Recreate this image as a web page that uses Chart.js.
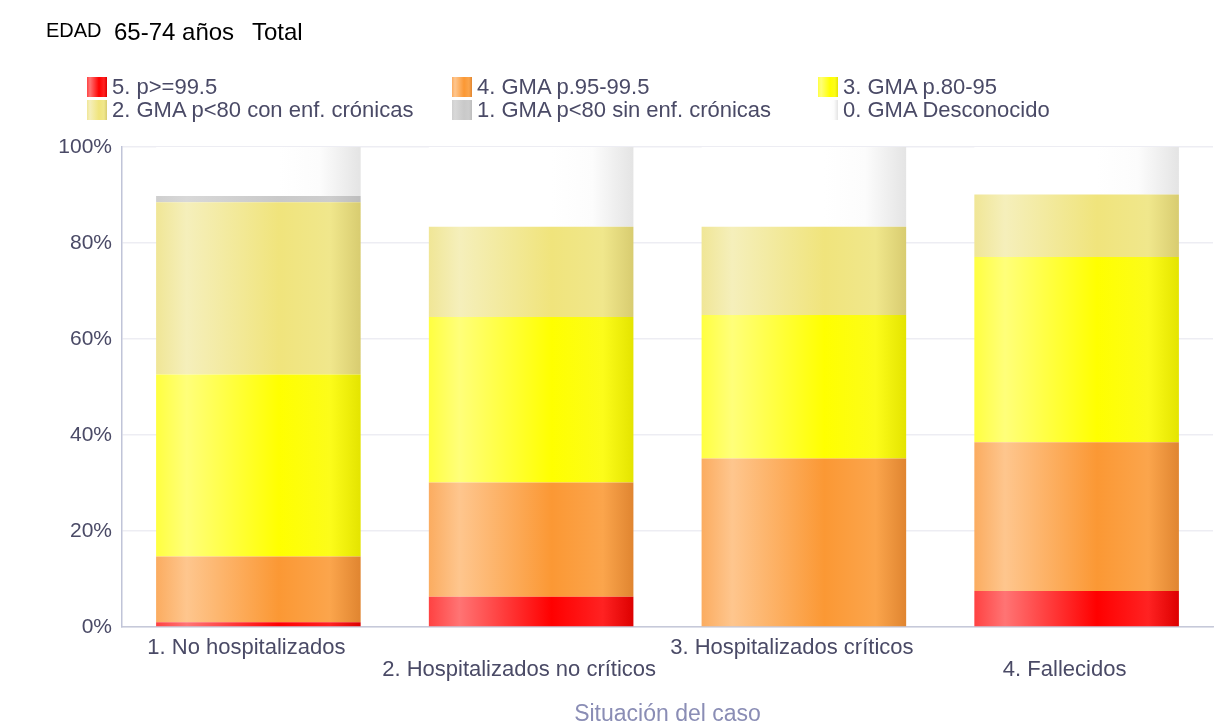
<!DOCTYPE html>
<html>
<head>
<meta charset="utf-8">
<script src="https://cdn.jsdelivr.net/npm/chart.js@4"></script>
<style>
    body { margin: 0; background: #fff; font-family: "Liberation Sans", Arial, sans-serif; }
    #wrap { position: relative; width: 1227px; height: 724px; overflow: hidden; }
    #chart { position: absolute; left: 0; top: 0; }
    .t { position: absolute; white-space: pre; color: #000; line-height: 1; }
    .leg { position: absolute; height: 20px; display: flex; align-items: center; font-size: 22px; color: #4a4a66; white-space: pre; }
    .leg i { display: inline-block; width: 20px; height: 20px; margin-right: 5px; }
</style>
</head>
<body>
<div id="wrap">
    <canvas id="chart" width="1227" height="724"></canvas>
    <div class="t" style="left:46px; top:20px; font-size:20px;">EDAD</div>
    <div class="t" style="left:114px; top:20px; font-size:24px;">65-74 años</div>
    <div class="t" style="left:252px; top:20px; font-size:24px;">Total</div>
    <div id="legend"></div>
</div>
<script>
const categories = ['1. No hospitalizados', '2. Hospitalizados no críticos', '3. Hospitalizados críticos', '4. Fallecidos'];
const seriesNames = ['5. p>=99.5', '4. GMA p.95-99.5', '3. GMA p.80-95', '2. GMA p<80 con enf. crónicas', '1. GMA p<80 sin enf. crónicas', '0. GMA Desconocido'];

// porcentaje de cada tramo, de abajo a arriba
const p995 = [1.0, 6.3, 0, 7.5];
const p95a995 = [13.7, 23.8, 35.1, 31.0];
const p80a95 = [37.9, 34.5, 29.9, 38.6];
const p80Cronicas = [35.9, 18.8, 18.4, 13.0];
const p80SinCronicas = [1.3, 0, 0, 0];
const desconocido = [10.2, 16.6, 16.6, 9.9];

const yTicks = [0, 20, 40, 60, 80, 100];

// degradados horizontales de cada serie
const gradients = [
    [[0, '#ff4242'], [0.15, '#ff7474'], [0.6, '#ff0000'], [0.85, '#ff2222'], [1, '#dd0000']],
    [[0, '#fbac60'], [0.15, '#fec68e'], [0.6, '#fb9834'], [0.85, '#fba54c'], [1, '#e08530']],
    [[0, '#ffff40'], [0.15, '#ffff7a'], [0.6, '#ffff00'], [0.85, '#fcfc1a'], [1, '#e4e400']],
    [[0, '#f0e696'], [0.15, '#f5efbb'], [0.6, '#f0e47c'], [0.85, '#f0e78c'], [1, '#d8cc70']],
    [[0, '#cfcfcf'], [0.15, '#d8d8d8'], [0.6, '#c9c9c9'], [0.85, '#cdcdcd'], [1, '#bdbdbd']],
    [[0, '#ffffff'], [0.15, '#ffffff'], [0.6, '#ffffff'], [0.8, '#fcfcfc'], [1, '#e4e4e4']]
];
const seriesValues = [p995, p95a995, p80a95, p80Cronicas, p80SinCronicas, desconocido];
const barFraction = 0.75;

function barGradient(stops) {
    return ctx => {
        const chart = ctx.chart;
        const area = chart.chartArea;
        if (!area || ctx.dataIndex === undefined) return stops[2][1];
        const x = chart.scales.x.getPixelForValue(ctx.dataIndex);
        const w = area.width / categories.length * barFraction;
        const g = chart.ctx.createLinearGradient(x - w / 2, 0, x + w / 2, 0);
        stops.forEach(s => g.addColorStop(s[0], s[1]));
        return g;
    };
}

// leyenda en tres columnas
const legend = document.getElementById('legend');
const legCols = [87, 452, 818];
const legRows = [77, 100];
seriesNames.forEach((name, i) => {
    const d = document.createElement('div');
    d.className = 'leg';
    d.style.left = legCols[i % 3] + 'px';
    d.style.top = legRows[Math.floor(i / 3)] + 'px';
    const box = document.createElement('i');
    box.style.background = 'linear-gradient(to right,' + gradients[i].map(s => s[1] + ' ' + (s[0] * 100) + '%').join(',') + ')';
    d.appendChild(box);
    d.appendChild(document.createTextNode(name));
    legend.appendChild(d);
});

const textColor = '#4a4a66';
const family = '"Liberation Sans", Arial, sans-serif';

new Chart(document.getElementById('chart'), {
    type: 'bar',
    data: {
        labels: categories.map((c, i) => i % 2 === 0 ? [c, ''] : ['', c]),
        datasets: seriesNames.map((name, i) => ({
            label: name,
            data: seriesValues[i],
            backgroundColor: barGradient(gradients[i]),
            borderWidth: 0,
            categoryPercentage: barFraction,
            barPercentage: 1
        }))
    },
    options: {
        responsive: false,
        animation: false,
        layout: { padding: { top: 147, right: 14, left: 0, bottom: 0 } },
        plugins: { legend: { display: false }, tooltip: { enabled: false } },
        scales: {
            x: {
                stacked: true,
                grid: { display: false },
                border: { display: true, color: '#c6c9d9', width: 1.5 },
                ticks: { color: textColor, font: { family: family, size: 22, lineHeight: 1.0 }, padding: 2, maxRotation: 0, autoSkip: false, labelOffset: -12 },
                title: { display: true, text: 'Situación del caso', color: '#8a8db5', font: { family: family, size: 23 }, padding: { top: 0, bottom: -4 } },
                afterFit: s => { s.height = 97; }
            },
            y: {
                stacked: true,
                min: 0,
                max: 100,
                afterBuildTicks: s => { s.ticks = yTicks.map(v => ({ value: v })); },
                grid: { color: '#ededf3', lineWidth: 1.5, drawTicks: false },
                border: { display: true, color: '#c0c4d8', width: 1.5 },
                ticks: { color: textColor, font: { family: family, size: 21 }, padding: 10, callback: v => v + '%' },
                afterFit: s => { s.width = 122; }
            }
        }
    }
});
</script>
</body>
</html>
